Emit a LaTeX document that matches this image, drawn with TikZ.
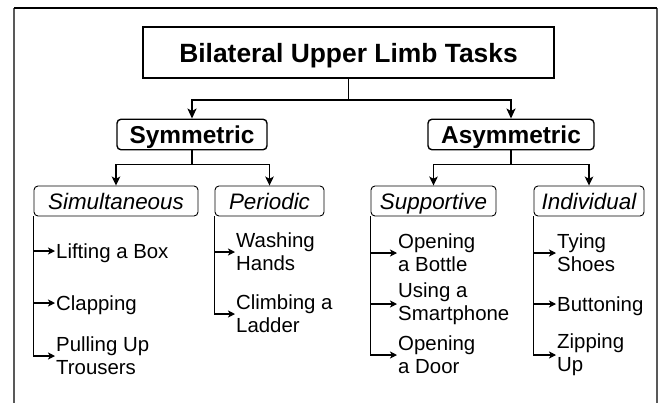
\documentclass[tikz,border=0pt]{standalone}
\usepackage{fontspec}
\setmainfont{Liberation Sans}
\usetikzlibrary{arrows.meta}
\tikzset{
  titlebox/.style={draw, line width=2pt, minimum width=411pt, minimum height=51pt, inner sep=0pt,
    text height=19pt, text depth=0pt, font=\fontsize{26.4}{30}\selectfont\bfseries},
  lvtwo/.style={draw, rounded corners=4pt, line width=1.4pt, minimum height=30.5pt, inner sep=0pt,
    text height=17.6pt, text depth=0pt, font=\fontsize{24.4}{28}\selectfont\bfseries},
  lvthree/.style={draw, rounded corners=4pt, line width=0.9pt, minimum height=30pt, inner sep=0pt,
    text height=16.1pt, text depth=0pt, font=\fontsize{22.4}{26}\selectfont\itshape},
  leaf/.style={anchor=west, inner sep=1pt, text height=14.7pt, text depth=0pt,
    font=\fontsize{20.4}{23}\selectfont},
  leafm/.style={anchor=west, inner sep=1pt, align=left, font=\fontsize{20.4}{23}\selectfont},
  toparr/.style={line width=1.8pt, -{Stealth[length=10pt,width=9pt,inset=2.5pt]}},
  midarr/.style={line width=1.5pt, -{Stealth[length=9pt,width=8.5pt,inset=2.2pt]}},
  leafarr/.style={line width=1.1pt, -{Stealth[length=7pt,width=7pt,inset=1.8pt]}},
  framegrey/.style={line width=2pt, draw=black!65},
}
\begin{document}
\begin{tikzpicture}[x=1pt,y=-1pt]
\useasboundingbox (0,0) rectangle (663,402);
% frame
\coordinate (fbl) at (14,403);
\coordinate (ftl) at (14,8);
\coordinate (ftr) at (657,8);
\coordinate (fbr) at (657,403);
\draw[framegrey] (fbl) -- (ftl);
\draw[framegrey] (fbr) -- (ftr);
\draw[line width=2pt] (ftl) -- (ftr);

% nodes
\node[titlebox] (title) at (348.5,52.5) {Bilateral Upper Limb Tasks};
\node[lvtwo, minimum width=150pt] (sym) at (192,134.5) {Symmetric};
\node[lvtwo, minimum width=166pt] (asym) at (511,134.5) {Asymmetric};
\node[lvthree, minimum width=164pt] (sim) at (116,201) {Simultaneous};
\node[lvthree, minimum width=109pt] (per) at (269.5,201) {Periodic};
\node[lvthree, minimum width=125pt] (sup) at (433.5,201) {Supportive};
\node[lvthree, minimum width=110pt] (ind) at (589,201) {Individual};

% leaves
\node[leaf] (box) at (55,251) {Lifting a Box};
\node[leaf] (clap) at (55,303) {Clapping};
\node[leafm] (pull) at (55,356) {Pulling Up\\Trousers};
\node[leafm] (wash) at (235,252) {Washing\\Hands};
\node[leafm] (climb) at (235,314) {Climbing a\\Ladder};
\node[leafm] (bottle) at (397,253) {Opening\\a Bottle};
\node[leafm] (phone) at (397,304) {Using a\\Smartphone};
\node[leafm] (door) at (397,355) {Opening\\a Door};
\node[leafm] (shoes) at (556,253) {Tying\\Shoes};
\node[leaf] (button) at (556,304) {Buttoning};
\node[leafm] (zip) at (556,355) {Zipping\\Up};

% connectors: top level
\draw[toparr] (title.south) -- ++(0,21) -| (sym.north);
\draw[toparr] (title.south) -- ++(0,21) -| (asym.north);
% second level
\draw[midarr] (sym.south) -- ++(0,14) -| (sim.north);
\draw[midarr] (sym.south) -- ++(0,14) -| (per.north);
\draw[midarr] (asym.south) -- ++(0,14) -| (sup.north);
\draw[midarr] (asym.south) -- ++(0,14) -| (ind.north);
% leaves
\draw[leafarr] (sim.south west) |- (box.west);
\draw[leafarr] (sim.south west) |- (clap.west);
\draw[leafarr] (sim.south west) |- (pull.west);
\draw[leafarr] (per.south west) |- (wash.west);
\draw[leafarr] (per.south west) |- (climb.west);
\draw[leafarr] (sup.south west) |- (bottle.west);
\draw[leafarr] (sup.south west) |- (phone.west);
\draw[leafarr] (sup.south west) |- (door.west);
\draw[leafarr] (ind.south west) |- (shoes.west);
\draw[leafarr] (ind.south west) |- (button.west);
\draw[leafarr] (ind.south west) |- (zip.west);
\end{tikzpicture}
\end{document}
